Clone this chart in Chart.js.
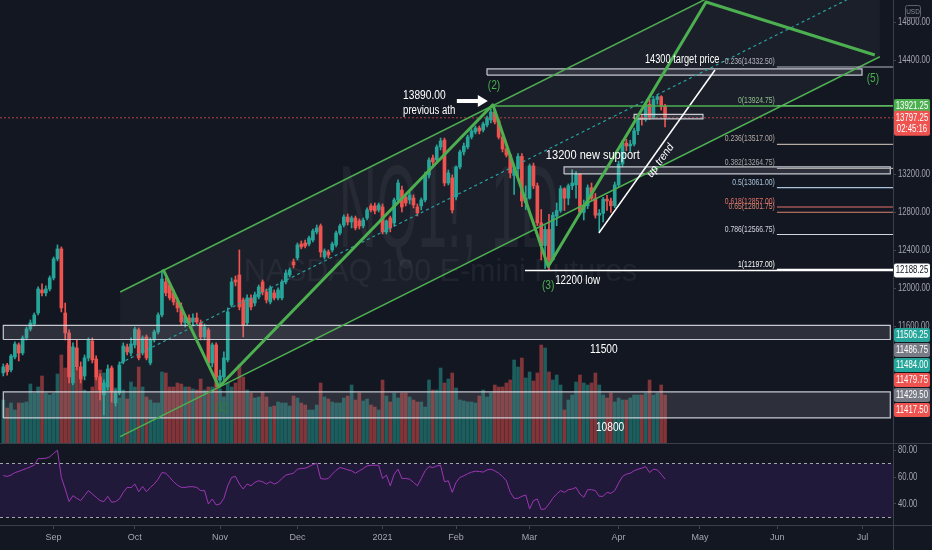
<!DOCTYPE html>
<html><head><meta charset="utf-8">
<style>html,body{margin:0;padding:0;background:#131722;overflow:hidden}canvas{display:block}</style>
<script src="https://cdn.jsdelivr.net/npm/chart.js@4.4.1/dist/chart.umd.min.js"></script>
</head><body>
<canvas id="c" width="932" height="550"></canvas>
<script>
// ---------- DATA (daily bars, index 0 = first visible bar) ----------
const openP = [11108,11190,11140,11276,11403,11318,11477,11571,11624,11740,
11982,11951,11993,12109,12309,12415,11740,11529,11002,11371,
11171,11076,11266,11445,11255,11066,10876,10960,11160,10791,
10897,11224,11382,11318,11403,11561,11318,11487,11213,11455,
11540,11719,12067,12035,11951,11856,11803,11635,11687,11645,
11687,11635,11487,11561,11213,11403,11030,11066,11245,11824,
12088,12141,11877,11635,11898,11845,11909,12067,11961,11856,
11951,11898,11898,12067,12141,12278,12320,12467,12478,12467,
12509,12594,12657,12330,12383,12404,12457,12583,12667,12752,
12699,12741,12710,12657,12741,12868,12868,12826,12857,12594,
12741,12688,12931,13036,12963,12931,12952,12857,12868,12931,
13195,13374,13353,13490,13563,13110,13163,12963,13279,13437,
13490,13595,13648,13690,13669,13722,13774,13858,13764,13595,
13469,13405,13190,13260,13390,12900,12950,13290,13080,12690,
12450,12620,12300,12760,12820,13050,12950,13080,13090,13200,
12800,12870,13060,12950,12770,12790,12940,12920,12870,13090,
13310,13530,13500,13520,13660,13800,13780,13940,13800,13990,
14020,13920];
const highP = [11202,11210,11305,11435,11424,11498,11592,11666,11740,12014,
12046,12025,12130,12330,12457,12436,11845,11561,11424,11455,
11224,11297,11477,11477,11287,11097,11034,11192,11182,10928,
11224,11424,11413,11477,11592,11582,11498,11508,11477,11561,
11740,12193,12109,12056,11982,11898,11845,11719,11719,11730,
11740,11666,11624,11582,11424,11424,11139,11329,11793,12109,
12130,12404,11898,11930,11930,11961,12035,12088,11993,12025,
11982,12004,12088,12193,12214,12309,12478,12499,12509,12551,
12625,12667,12678,12415,12404,12488,12604,12678,12773,12783,
12762,12762,12731,12741,12847,12889,12899,12899,12889,12720,
12762,12952,13142,13078,12994,13015,12984,12889,12952,13226,
13374,13405,13511,13584,13584,13247,13195,13290,13458,13532,
13616,13680,13711,13711,13753,13816,13890,13880,13785,13627,
13511,13416,13300,13420,13420,13080,13310,13320,13110,12830,
12660,12780,12800,12900,13080,13060,13100,13250,13230,13210,
12930,13090,13110,13000,12830,12960,12980,12950,13120,13340,
13560,13570,13560,13690,13810,13830,13960,13990,14010,14040,
14030,13940];
const lowP = [11076,11085,11118,11255,11234,11297,11455,11550,11603,11719,
11920,11920,11972,12088,12288,11751,11455,11002,10981,11139,
11002,11034,11234,11213,11034,10823,10665,10928,10800,10760,
10876,11203,11297,11287,11371,11245,11297,11245,11192,11434,
11519,11698,11920,11877,11824,11751,11614,11592,11614,11603,
11624,11455,11455,11192,11171,10960,10960,11034,11224,11803,
12025,11772,11487,11614,11772,11814,11888,11930,11845,11835,
11877,11877,11877,12046,12120,12214,12299,12415,12425,12446,
12488,12573,12330,12309,12320,12383,12436,12562,12646,12667,
12636,12615,12625,12636,12720,12805,12784,12805,12573,12573,
12594,12657,12910,12805,12868,12889,12847,12762,12826,12910,
13163,13300,13321,13458,13079,13089,12794,12931,13258,13405,
13469,13574,13627,13627,13648,13700,13743,13732,13574,13437,
13384,13163,12990,13150,12860,12830,12940,13050,12660,12300,
12210,12197,12290,12660,12800,12820,12880,13040,12950,12780,
12720,12840,12920,12740,12600,12700,12820,12800,12850,13070,
13280,13450,13440,13500,13620,13720,13760,13780,13790,13940,
13880,13700];
const closeP = [11171,11120,11287,11413,11318,11477,11571,11635,11719,11993,
11951,11993,12109,12309,12415,11793,11529,11066,11382,11171,
11044,11266,11455,11245,11066,10928,11002,11150,10907,10897,
11192,11392,11329,11413,11571,11266,11477,11266,11455,11540,
11719,12098,11951,11898,11856,11793,11645,11698,11635,11687,
11645,11487,11592,11213,11403,11066,11076,11266,11751,12067,
12067,11803,11614,11898,11803,11930,12014,11961,11877,12004,
11898,11982,12067,12162,12193,12246,12457,12436,12446,12530,
12604,12636,12383,12394,12351,12467,12583,12657,12752,12699,
12741,12636,12657,12720,12826,12826,12815,12878,12594,12710,
12636,12931,13110,12857,12899,12984,12878,12794,12931,13195,
13353,13332,13490,13553,13110,13216,12826,13279,13437,13500,
13595,13658,13690,13658,13732,13795,13858,13753,13595,13469,
13405,13216,13260,13390,12920,12950,13290,13080,12690,12450,
12620,12300,12770,12820,13050,12950,13080,13110,13200,12800,
12870,13060,12950,12770,12790,12940,12920,12870,13090,13310,
13530,13500,13520,13660,13800,13780,13940,13800,13990,14020,
13920,13797.25];
const volumeK = [430,350,400,330,400,400,410,590,500,560,
670,500,480,500,690,880,750,980,700,750,
730,530,510,560,660,730,700,600,730,550,
450,530,440,610,560,760,560,460,430,400,
400,710,700,560,560,600,590,560,560,540,
530,640,530,560,560,660,540,460,600,560,
600,780,660,530,500,450,460,510,460,360,
370,410,400,400,370,470,450,400,380,330,
330,380,600,460,440,410,400,400,450,470,
580,430,500,420,440,380,360,330,630,470,
410,500,450,500,500,460,430,410,410,360,
630,530,530,750,600,640,700,550,430,420,
410,410,400,470,530,460,500,580,560,560,
600,630,830,760,850,650,710,620,700,980,
950,710,630,680,580,330,430,480,610,680,
600,580,600,700,580,480,450,500,410,450,
430,430,450,480,480,480,500,630,480,500,
580,480];
const rsiVals = [61.1,60.4,61.4,63.3,64.1,65.3,66.3,67.5,68.7,73.6,
73.6,73.9,74.9,77.5,79.8,59.7,51.1,41.8,46.2,44.2,
42.5,46.2,49.9,47.4,45.0,42.5,41.8,45.7,41.3,41.8,
43.7,48.6,52.3,52.1,54.8,49.1,53.0,49.1,52.3,54.8,
58.4,63.3,62.8,59.7,56.5,54.0,52.3,52.3,52.8,52.8,
52.3,49.9,49.9,40.0,43.7,39.3,40.0,44.2,53.5,59.7,
60.4,54.8,51.1,54.8,53.5,56.0,57.2,56.5,54.8,56.5,
54.8,56.0,58.9,61.4,62.1,62.8,65.8,66.3,66.5,67.7,
69.2,70.2,58.9,58.4,58.9,62.1,65.0,67.0,66.3,65.3,
64.6,62.8,64.6,66.3,68.2,68.7,68.7,68.7,58.9,61.4,
53.5,62.1,65.8,58.9,58.9,58.4,56.0,53.5,58.9,64.6,
67.7,67.0,68.2,68.7,56.5,57.2,48.6,56.0,59.7,60.9,
62.4,63.6,64.3,64.1,63.6,65.3,65.8,64.6,62.8,60.4,
57.2,48.6,44.2,44.2,45.7,46.7,36.4,42.5,43.7,35.9,
36.4,40.0,44.2,47.4,49.9,48.6,50.6,51.1,52.3,47.4,
45.0,50.6,50.6,49.9,45.7,45.7,48.6,47.9,49.9,55.5,
60.4,62.1,62.8,64.6,65.8,66.5,67.7,63.3,65.8,65.3,
62.1,58.4];
const monthTickIdx = [13,34,56,76,98,117,136,159,180,200,222];
const monthTickLabels = ['Sep','Oct','Nov','Dec','2021','Feb','Mar','Apr','May','Jun','Jul'];
const priceTicks = [11600,12000,12400,12800,13200,14400,14800];
const rsiTicks = [40,60,80];
const rsiBandLevels = [30,70];

// drawings (bar index, price)
const waveIdx = [41.3,55.7,126.5,140.8,181.6,225.2];
const wavePrice = [12200,10960,13935,12230,15018,14459];
const channelIdx = [30.2,226.5];
const channelUpper = [11961,15966];
const channelLower = [10436,14441];
const channelMid = [11210,15215];
const trendIdx = [153.9,183.9];
const trendPrice = [12583,14301];
const athLevel = 13921.25, athFromIdx = 126.5;
const lowLevel = 12188.25, lowFromIdx = 134.8;
const fibRatios = ['-0.236','0','0.236','0.382','0.5','0.618','0.65','0.786','1'];
const fibPrices = [14332.50,13924.75,13517.00,13264.75,13061.00,12857.00,12801.75,12566.75,12197.00];
const fibColors = ['#b2b5be','#8fbf8f','#b3aaa2','#a6a6a6','#a9c3d9','#e5736a','#d9856f','#d1d4dc','#ffffff'];
const fibFromIdx = 199.9;
const zoneFrom = [124.99,163.0,144.9,0,0];
const zoneTo = [221.9,180.8,229.2,229.2,229.2];
const zoneLow = [14248,13785,13205,11460,10633];
const zoneHigh = [14312,13834,13279,11608,10907];
const tagValues = [11506.25,11486.75,11484.00,11479.75,11429.50,11417.50];
const tagColors = ['#26a69a','#787b86','#26a69a','#ef5350','#787b86','#ef5350'];

// ---------- CHART ----------
const X_MIN = -0.85, X_MAX = 229.9;
const UP = '#26a69a', DN = '#ef5350';
const lastClose = closeP[closeP.length-1];
const isUp = closeP.map((c,i)=> c >= openP[i]);
const cCol = isUp.map(u => u ? UP : DN);
const vCol = isUp.map(u => u ? 'rgba(38,166,154,0.5)' : 'rgba(239,83,80,0.5)');
const TXT = "'Liberation Sans', Arial, sans-serif";

function seg(pts, color, width, order, extra) {
  return Object.assign({type:'line', data:pts, borderColor:color, borderWidth:width, pointRadius:0,
    pointHoverRadius:0, fill:false, tension:0, order, yAxisID:'y'}, extra||{});
}
function shape(x0,x1,lo,hi,color,order,axis) {
  return {type:'line', data:[{x:x0,y:lo},{x:x0,y:hi},{x:x1,y:hi},{x:x1,y:lo}], borderWidth:0,
    borderColor:'rgba(0,0,0,0)', backgroundColor:color, fill:'shape', pointRadius:0, pointHoverRadius:0, order, yAxisID:axis||'y'};
}

const ds = [];
ds.push({type:'line', data:[{x:channelIdx[0],y:channelLower[0]},{x:channelIdx[0],y:channelUpper[0]},
  {x:channelIdx[1],y:channelUpper[1]},{x:channelIdx[1],y:channelLower[1]}], borderWidth:0,
  backgroundColor:'rgba(255,255,255,0.035)', fill:'shape', pointRadius:0, pointHoverRadius:0, order:100, yAxisID:'y'});
ds.push({type:'bar', data:volumeK.map((v,i)=>({x:i,y:v})), backgroundColor:vCol, barThickness:3,
  grouped:false, yAxisID:'vol', order:90});
ds.push(shape(X_MIN,X_MAX,rsiBandLevels[0],rsiBandLevels[1],'rgba(120,40,200,0.14)',85,'rsi'));
rsiBandLevels.forEach(l => ds.push(seg([{x:X_MIN,y:l},{x:X_MAX,y:l}],'rgba(190,192,200,0.85)',1,84,{yAxisID:'rsi',borderDash:[3,3]})));
ds.push(seg(rsiVals.map((v,i)=>({x:i,y:v})),'#9c36b5',1,80,{yAxisID:'rsi'}));
ds.push({type:'bar', data:closeP.map((c,i)=>({x:i,y:[lowP[i],highP[i]]})), backgroundColor:cCol,
  barThickness:1, grouped:false, yAxisID:'y', order:70, minBarLength:1});
ds.push({type:'bar', data:closeP.map((c,i)=>({x:i,y:[Math.min(openP[i],c),Math.max(openP[i],c)]})),
  backgroundColor:cCol, barThickness:3, grouped:false, yAxisID:'y', order:65, minBarLength:1});
ds.push(seg([{x:X_MIN,y:lastClose},{x:X_MAX,y:lastClose}],'rgba(200,70,70,0.9)',1,60,{borderDash:[2,2]}));
for (let k=0;k<zoneLow.length;k++){
  ds.push(shape(zoneFrom[k],zoneTo[k],zoneLow[k],zoneHigh[k],'rgba(150,152,162,0.2)',55));
  ds.push(seg([{x:zoneFrom[k],y:zoneLow[k]},{x:zoneFrom[k],y:zoneHigh[k]},{x:zoneTo[k],y:zoneHigh[k]},
    {x:zoneTo[k],y:zoneLow[k]},{x:zoneFrom[k],y:zoneLow[k]}],'rgba(215,218,225,0.9)',1.2,54));
}
ds.push(seg(channelIdx.map((x,k)=>({x,y:channelUpper[k]})),'#4caf50',1.5,50));
ds.push(seg(channelIdx.map((x,k)=>({x,y:channelLower[k]})),'#4caf50',1.5,50));
ds.push(seg(channelIdx.map((x,k)=>({x,y:channelMid[k]})),'#2a9fa3',1.2,50,{borderDash:[3,3]}));
fibPrices.forEach((p,k)=> ds.push(seg([{x:fibFromIdx,y:p},{x:X_MAX,y:p}],fibColors[k],k===8?1.5:1.2,45)));
ds.push(seg([{x:lowFromIdx,y:lowLevel},{x:X_MAX,y:lowLevel}],'#ffffff',1.5,44));
ds.push(seg(trendIdx.map((x,k)=>({x,y:trendPrice[k]})),'#ffffff',1.5,40));
ds.push(seg([{x:athFromIdx,y:athLevel},{x:X_MAX,y:athLevel}],'#4caf50',1.5,35));
ds.push(seg(waveIdx.map((x,k)=>({x,y:wavePrice[k]})),'#4caf50',3,30,{borderJoinStyle:'round'}));

// ---------- annotation overlay ----------
const notes = [
  {t:'(2)', i:126.8, p:14133, c:'#4caf50', a:'center', sx:0.85},
  {t:'13890.00', i:103.3, p:14027, c:'#ffffff', a:'left', sx:0.85},
  {t:'previous ath', i:103.3, p:13869, c:'#ffffff', a:'left', sx:0.8},
  {t:'(1)', i:56.3, p:10739, c:'#2e7d32', a:'center', sx:0.85},
  {t:'(3)', i:140.8, p:12025, c:'#4caf50', a:'center', sx:0.85},
  {t:'(5)', i:224.7, p:14206, c:'#4caf50', a:'center', sx:0.85},
  {t:'12200 low', i:142.6, p:12077, c:'#ffffff', a:'left', sx:0.82},
  {t:'13200 new support', i:140.2, p:13395, c:'#ffffff', a:'left', sx:0.92},
  {t:'14300 target price', i:165.8, p:14407, c:'#ffffff', a:'left', sx:0.77},
  {t:'11500', i:155.2, p:11350, c:'#ffffff', a:'center', sx:0.85},
  {t:'10800', i:156.8, p:10528, c:'#ffffff', a:'center', sx:0.85}
];
function text(ctx, s, x, y, size, color, align, sx, style) {
  ctx.save(); ctx.translate(x,y); ctx.scale(sx,1);
  ctx.font = (style||'') + ' ' + size + 'px ' + TXT;
  ctx.fillStyle = color; ctx.textAlign = align; ctx.textBaseline = 'middle';
  ctx.fillText(s,0,0); ctx.restore();
}
const overlay = {
  id:'overlay',
  beforeDraw(chart){ const c=chart.ctx; c.save(); c.fillStyle='#131722'; c.fillRect(0,0,chart.width,chart.height); c.restore(); },
  beforeDatasetsDraw(chart){
    const {ctx, chartArea:a} = chart; const ys = chart.scales.y;
    const cx = (a.left+a.right)/2;
    ctx.save(); ctx.beginPath(); ctx.rect(a.left, ys.top, a.right-a.left, ys.bottom-ys.top); ctx.clip();
    ctx.fillStyle='rgba(255,255,255,0.055)'; ctx.textAlign='center'; ctx.textBaseline='alphabetic';
    ctx.save(); ctx.translate(cx+2, 247); ctx.scale(0.45,1); ctx.font='117px '+TXT; ctx.fillText('NQ1!, 1D',0,0); ctx.restore();
    ctx.save(); ctx.translate(cx-6, 281); ctx.scale(0.95,1); ctx.font='32px '+TXT; ctx.fillText('NASDAQ 100 E-mini Futures',0,0); ctx.restore();
    ctx.restore();
  },
  afterDatasetsDraw(chart){
    const {ctx} = chart; const xs = chart.scales.x, ys = chart.scales.y;
    const P = (i,p)=>[xs.getPixelForValue(i), ys.getPixelForValue(p)];
    ctx.save(); ctx.beginPath(); ctx.rect(0, ys.top, chart.chartArea.right, ys.bottom-ys.top); ctx.clip();
    notes.forEach(n=>{ const [x,y]=P(n.i,n.p); text(ctx,n.t,x,y,12,n.c,n.a,n.sx); });
    const [ax0,ay]=P(117.2,13974), [ax1]=P(125.2,13974);
    ctx.fillStyle='#ffffff'; ctx.fillRect(ax0, ay-2, ax1-ax0-9, 4);
    ctx.beginPath(); ctx.moveTo(ax1-10, ay-6); ctx.lineTo(ax1, ay); ctx.lineTo(ax1-10, ay+6); ctx.closePath(); ctx.fill();
    const [t0x,t0y]=P(trendIdx[0],trendPrice[0]), [t1x,t1y]=P(trendIdx[1],trendPrice[1]);
    const ang = Math.atan2(t1y-t0y, t1x-t0x);
    const [ux,uy]=P(169.8,13347);
    ctx.save(); ctx.translate(ux,uy); ctx.rotate(ang); text(ctx,'up trend',0,0,11,'#ffffff','center',0.95,'italic'); ctx.restore();
    const fx = xs.getPixelForValue(fibFromIdx) - 2;
    fibPrices.forEach((p,k)=>{ text(ctx, fibRatios[k]+'('+p.toFixed(2)+')', fx, ys.getPixelForValue(p)-5.5, 9, fibColors[k], 'right', 0.76); });
    ctx.restore();
  },
  afterDraw(chart){
    const {ctx, chartArea:a} = chart; const ys = chart.scales.y, rs = chart.scales.rsi;
    ctx.save();
    ctx.strokeStyle='#3a3e49'; ctx.lineWidth=1;
    ctx.beginPath(); ctx.moveTo(0, rs.top+0.5); ctx.lineTo(chart.width, rs.top+0.5); ctx.stroke();
    ctx.beginPath(); ctx.moveTo(a.right+0.5, 0); ctx.lineTo(a.right+0.5, chart.height); ctx.stroke();
    ctx.beginPath(); ctx.moveTo(a.right, a.bottom+0.5); ctx.lineTo(chart.width, a.bottom+0.5); ctx.stroke();
    // axis tick labels
    [[ys, priceTicks], [rs, rsiTicks]].forEach(([s, list]) => {
      s.ticks.forEach(t => { if (list.indexOf(t.value) >= 0)
        text(ctx, t.value.toFixed(2), a.right + 5, s.getPixelForValue(t.value), 10, '#a3a6af', 'left', 0.77); });
    });
    ctx.strokeStyle='#5d606b'; ctx.beginPath(); ctx.roundRect(a.right+12.5, 5.5, 15, 12, 2); ctx.stroke();
    text(ctx,'USD', a.right+20, 11.5, 8, '#8a8d96', 'center', 0.8);
    const R = a.right+1;
    function tag(y, s, bg, fg, sub){
      const h = sub ? 25 : 14;
      ctx.fillStyle = bg; ctx.beginPath(); ctx.roundRect(R, y-7, 36, h, 2); ctx.fill();
      text(ctx, s, R+18, y, 10, fg, 'center', 0.78);
      if (sub) text(ctx, sub, R+18, y+11, 10, fg, 'center', 0.78);
    }
    tag(ys.getPixelForValue(athLevel), athLevel.toFixed(2), '#4caf50', '#ffffff');
    tag(ys.getPixelForValue(lastClose), lastClose.toFixed(2), '#ef5350', '#ffffff', '02:45:16');
    tag(ys.getPixelForValue(lowLevel), lowLevel.toFixed(2), '#ffffff', '#131722');
    let prev = -1e9;
    tagValues.forEach((v,k)=>{ const y = Math.max(ys.getPixelForValue(v), prev+15); tag(y, v.toFixed(2), tagColors[k], '#ffffff'); prev = y; });
    ctx.restore();
  }
};

function listTicks(list){ return s => { s.ticks = list.map(v=>({value:v})); }; }
new Chart(document.getElementById('c'), {
  type:'bar',
  data:{datasets:ds},
  plugins:[overlay],
  options:{
    responsive:false, animation:false, devicePixelRatio:1, events:[],
    layout:{padding:0, autoPadding:false},
    plugins:{legend:{display:false}, tooltip:{enabled:false}},
    scales:{
      x:{type:'linear', min:X_MIN, max:X_MAX, offset:false, position:'bottom',
        afterBuildTicks:s=>{ s.ticks = monthTickIdx.map(v=>({value:v})); },
        afterFit:s=>{ s.height = 25; },
        grid:{drawOnChartArea:false, drawTicks:true, tickLength:4, color:'#434651', offset:false},
        border:{color:'#3a3e49'},
        ticks:{color:'#a3a6af', font:{family:TXT, size:9}, padding:3, maxRotation:0, autoSkip:false,
          callback:v=>{ const k = monthTickIdx.indexOf(v); return k>=0 ? monthTickLabels[k] : null; }}},
      y:{type:'linear', position:'right', stack:'panes', stackWeight:443, min:10369, max:15039,
        afterBuildTicks:listTicks(priceTicks),
        afterFit:s=>{ s.width = 39; },
        grid:{drawOnChartArea:false, drawTicks:true, tickLength:3, color:'#434651'},
        border:{display:false},
        ticks:{display:false}},
      rsi:{type:'linear', axis:'y', position:'right', stack:'panes', stackWeight:82, min:24.44, max:85.19,
        afterBuildTicks:listTicks(rsiTicks),
        afterFit:s=>{ s.width = 39; },
        grid:{drawOnChartArea:false, drawTicks:true, tickLength:3, color:'#434651'},
        border:{display:false},
        ticks:{display:false}},
      vol:{type:'linear', axis:'y', position:'left', display:false, min:-820, max:4430}
    }
  }
});
</script>
</body></html>
